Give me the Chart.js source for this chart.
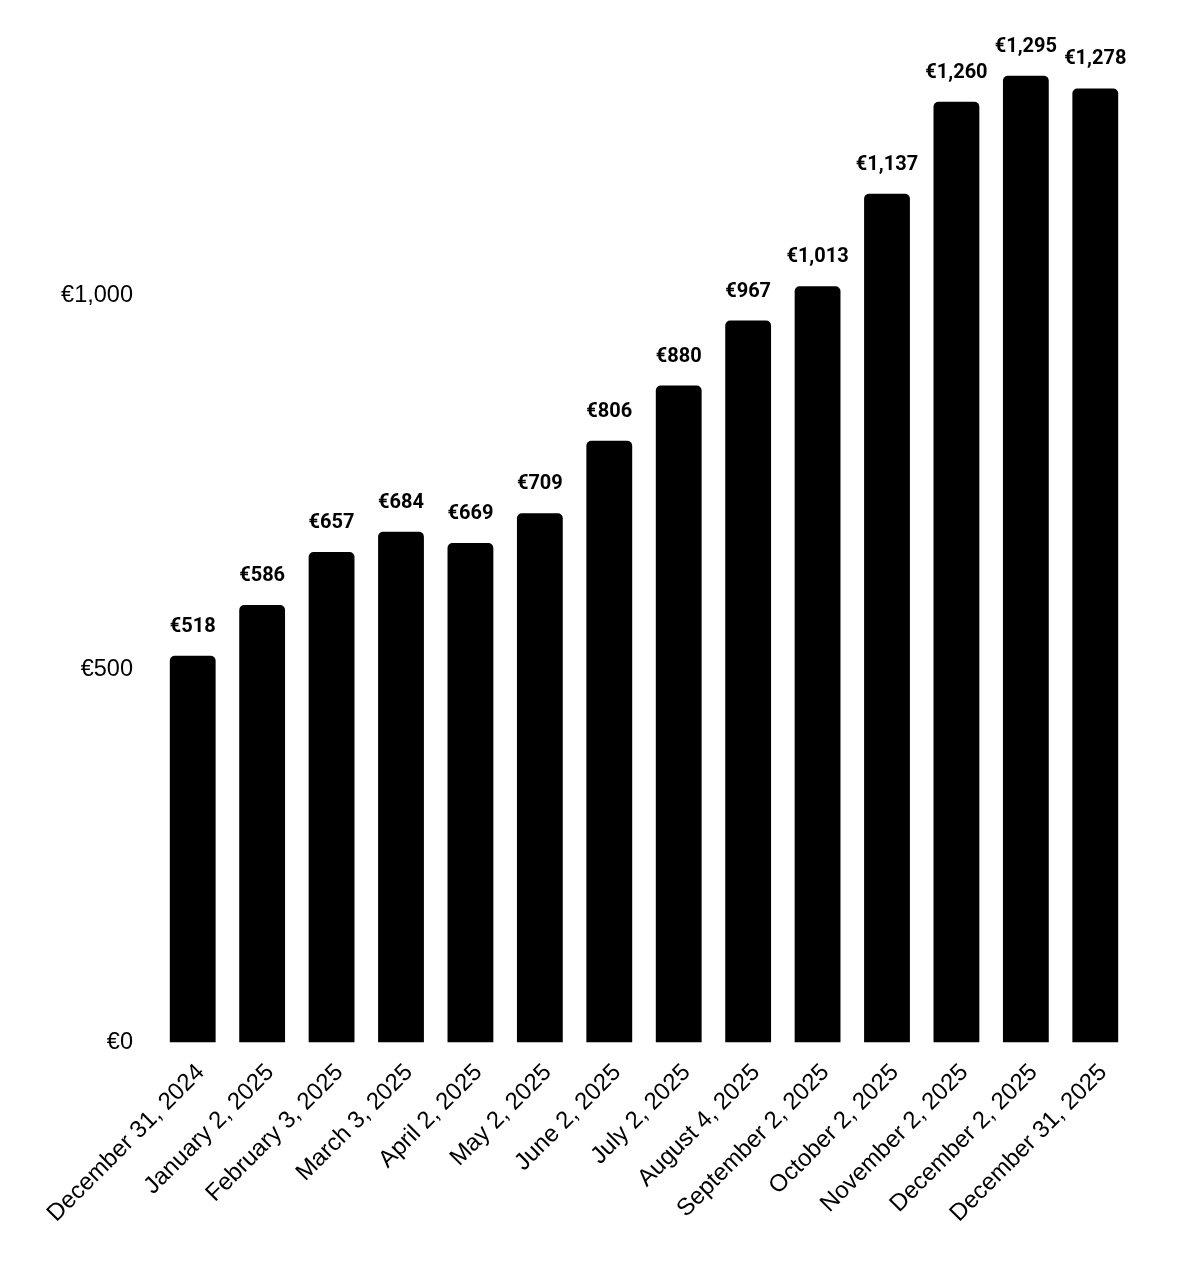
<!DOCTYPE html>
<html lang="en">
<head>
    <meta charset="UTF-8">
    <title>Monthly Balance</title>
    <script src="https://cdn.jsdelivr.net/npm/chart.js"></script>
    <style>
        html, body { margin: 0; padding: 0; background: #fff; }
        #wrap { width: 1200px; height: 1272px; }
    </style>
</head>
<body>
    <div id="wrap"><canvas id="balanceChart" width="1200" height="1272"></canvas></div>
<script>
    const dates = ['December 31, 2024', 'January 2, 2025', 'February 3, 2025', 'March 3, 2025',
        'April 2, 2025', 'May 2, 2025', 'June 2, 2025', 'July 2, 2025', 'August 4, 2025',
        'September 2, 2025', 'October 2, 2025', 'November 2, 2025', 'December 2, 2025', 'December 31, 2025'];
    const balances = [518, 586, 657, 684, 669, 709, 806, 880, 967, 1013, 1137, 1260, 1295, 1278];
    const yTicks = [0, 500, 1000];

    const euro = v => '€' + Math.round(v).toLocaleString('en-US');

    // value labels above each bar
    const barLabels = {
        id: 'barLabels',
        afterDatasetsDraw(chart) {
            const ctx = chart.ctx;
            const meta = chart.getDatasetMeta(0);
            ctx.save();
            ctx.font = 'bold 20px Roboto';
            ctx.fillStyle = '#000';
            ctx.textAlign = 'center';
            ctx.textBaseline = 'alphabetic';
            meta.data.forEach((bar, i) => {
                ctx.fillText(euro(balances[i]), bar.x, bar.y - 24);
            });
            ctx.restore();
        }
    };

    new Chart(document.getElementById('balanceChart'), {
        type: 'bar',
        data: {
            labels: dates,
            datasets: [{
                data: balances,
                backgroundColor: '#000',
                borderRadius: { topLeft: 5, topRight: 5 },
                borderSkipped: 'bottom',
                categoryPercentage: 0.66,
                barPercentage: 1
            }]
        },
        options: {
            responsive: false,
            animation: false,
            layout: { padding: { top: 72, right: 70, left: 0, bottom: 0 } },
            plugins: { legend: { display: false }, tooltip: { enabled: false } },
            scales: {
                x: {
                    grid: { display: false, drawTicks: false },
                    border: { display: false },
                    ticks: {
                        color: '#000',
                        font: { family: 'Liberation Sans', size: 24 },
                        minRotation: 45,
                        maxRotation: 45,
                        autoSkip: false,
                        labelOffset: 8,
                        padding: 16
                    },
                    afterFit(scale) { scale.height = 229.5; }
                },
                y: {
                    min: 0,
                    max: 1300,
                    grid: { display: false, drawTicks: false },
                    border: { display: false },
                    afterBuildTicks(scale) {
                        scale.ticks = yTicks.map(v => ({ value: v }));
                    },
                    ticks: {
                        color: '#000',
                        font: { family: 'Liberation Sans', size: 23.5 },
                        padding: 25,
                        callback: v => euro(v)
                    },
                    afterFit(scale) { scale.width = 158; }
                }
            }
        },
        plugins: [barLabels]
    });
</script>
</body>
</html>
